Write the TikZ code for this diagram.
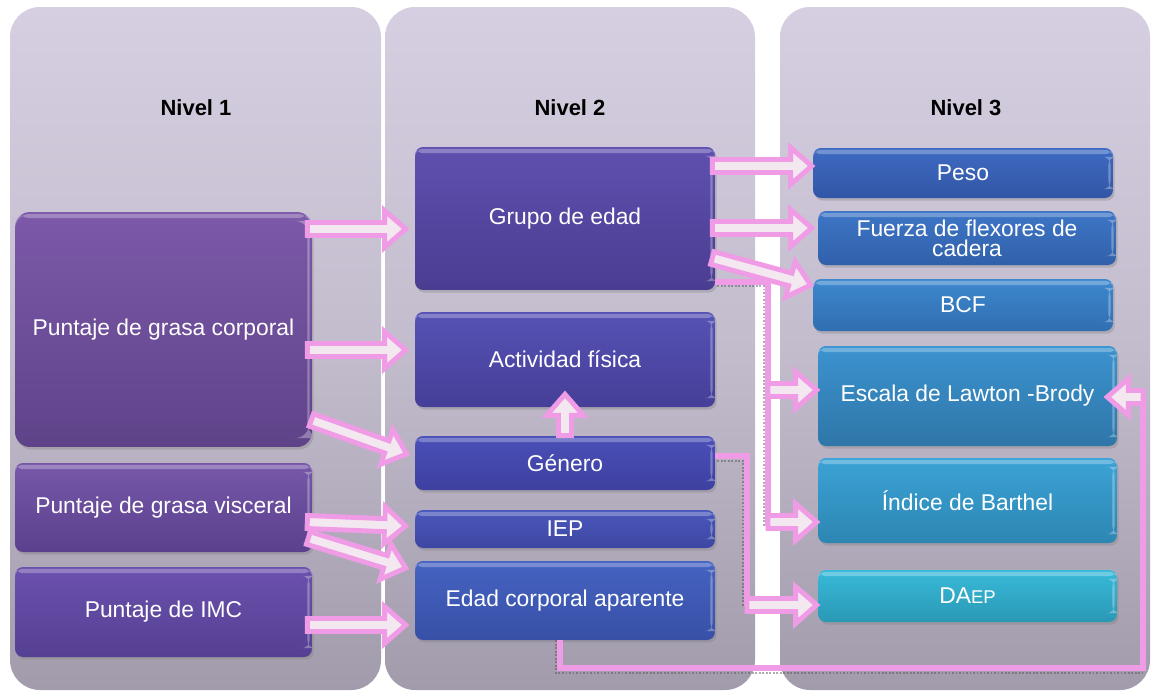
\documentclass[tikz,border=0pt]{standalone}
\usepackage{fontspec}
\setmainfont{Liberation Sans}
\usetikzlibrary{calc,shadows}
\definecolor{pinkA}{HTML}{F09BE6}
\definecolor{pinkF}{HTML}{F3E7F0}
\definecolor{colT}{HTML}{D6CFE1}
\definecolor{colM}{HTML}{C3BCCD}
\definecolor{colB}{HTML}{A29BAB}
\tikzset{
  colbg/.style={top color=colT, bottom color=colB, middle color=colM, rounded corners=0.6cm},
  header/.style={font=\bfseries\fontsize{12.5}{14}\selectfont, text=black},
  box/.style 2 args={/utils/exec={\definecolor{c#1}{HTML}{#1}\definecolor{c#2}{HTML}{#2}},
    rounded corners=0.16cm, top color=c#1, bottom color=c#2,
    text=white, font=\fontsize{13}{14}\selectfont, align=center, inner sep=0pt,
    drop shadow={opacity=0.35, shadow xshift=1pt, shadow yshift=-1.5pt},
    path picture={
      \fill[white,opacity=0.28] ([yshift=-1pt]path picture bounding box.north west) rectangle ([yshift=-3.5pt]path picture bounding box.north east);
      \fill[white,opacity=0.3] ([xshift=-2.6pt,yshift=-5pt]path picture bounding box.north east) rectangle ([xshift=-1.4pt,yshift=5pt]path picture bounding box.south east);
    }},
  barrowstyle/.style={draw=pinkA, fill=pinkF, line width=2.8pt, line join=miter, miter limit=4},
  link/.style={draw=pinkA, line width=3.2pt},
  linkshadow/.style={draw=black!70, densely dotted, line width=1pt, opacity=0.45},
}
\newcommand\barr[2]{%
  \path let \p1=(#1), \p2=(#2), \n1={atan2(\y2-\y1,\x2-\x1)}, \n2={veclen(\x2-\x1,\y2-\y1)} in
    \pgfextra{\pgfmathsetmacro\bangtmp{\n1}\xdef\bang{\bangtmp}%
      \pgfmathsetmacro\blentmp{\n2}\xdef\blen{\blentmp}%
      \pgfmathsetmacro\bhbtmp{\blentmp-12}\xdef\bhb{\bhbtmp}%
      \xdef\bxx{\x1}\xdef\byy{\y1}};
  \begin{scope}[shift={(\bxx,\byy)}, rotate=\bang]
    \draw[barrowstyle] (0pt,-3.7pt) -- (\bhb pt,-3.7pt) -- (\bhb pt,-10.5pt) -- (\blen pt,0pt)
      -- (\bhb pt,10.5pt) -- (\bhb pt,3.7pt) -- (0pt,3.7pt) -- cycle;
  \end{scope}}
\begin{document}
\begin{tikzpicture}[x=0.02cm,y=-0.02cm]
\useasboundingbox (0,0) rectangle (1154,691);
\clip (0,0) rectangle (1154,691);
\fill[white] (0,0) rectangle (1154,691);
% column backgrounds
\path[colbg] (10,7) rectangle (381,690);
\path[colbg] (385,7) rectangle (755,690);
\path[colbg] (780,7) rectangle (1150,690);
\node[header] (h1) at (196,108) {Nivel 1};
\node[header] (h2) at (570,108) {Nivel 2};
\node[header] (h3) at (966,108) {Nivel 3};
% level 1
\node[box={7C59A9}{5F4389}, rounded corners=0.3cm, minimum width=5.94cm, minimum height=4.7cm] (gc) at (163.5,329.5) {Puntaje de grasa corporal};
\node[box={7757A9}{5A418D}, minimum width=5.94cm, minimum height=1.78cm] (gv) at (163.5,507.5) {Puntaje de grasa visceral};
\node[box={6B51AE}{554093}, minimum width=5.94cm, minimum height=1.8cm] (imc) at (163.5,612) {Puntaje de IMC};
% level 2
\node[box={5F50AF}{4A3D91}, minimum width=6cm, minimum height=2.86cm] (ge) at (565,218.5) {Grupo de edad};
\node[box={5652B5}{453F98}, minimum width=6cm, minimum height=1.9cm] (af) at (565,359.5) {Actividad física};
\node[box={4A50B8}{3E40A0}, minimum width=6cm, minimum height=1.08cm] (gen) at (565,463) {Género};
\node[box={4A58BC}{3E47A2}, minimum width=6cm, minimum height=0.76cm] (iep) at (565,529) {IEP};
\node[box={4563C2}{3850A6}, minimum width=6cm, minimum height=1.58cm] (eca) at (565,600.5) {Edad corporal aparente};
% level 3
\node[box={3E6AC2}{3256A6}, minimum width=6cm, minimum height=1cm] (peso) at (963,173) {Peso};
\node[box={3D76C6}{3160AA}, minimum width=5.96cm, minimum height=1.08cm, font=\fontsize{13}{11.5}\selectfont] (fu) at (967,238) {Fuerza de flexores de\\cadera};
\node[box={3D88CE}{306EB0}, minimum width=6cm, minimum height=1.04cm] (bcf) at (963,305) {BCF};
\node[box={3C93D0}{2E76A8}, minimum width=5.98cm, minimum height=2cm] (esc) at (967.5,396) {Escala de Lawton -Brody};
\node[box={3BA3D6}{2D86B2}, minimum width=5.98cm, minimum height=1.7cm] (bar) at (967.5,500.5) {Índice de Barthel};
\node[box={38BAD9}{2A98B5}, minimum width=5.98cm, minimum height=1.04cm] (daep) at (967.5,596) {DA{\fontsize{10.5}{12}\selectfont EP}};
% elbow connectors
\coordinate (j1) at (768,526);
\coordinate (j1a) at (768,390);
\coordinate (j1b) at (768,522);
\coordinate (j2) at (747,606);
\coordinate (j2a) at (747,605);
\coordinate (j3) at (1143,668);
\coordinate (j3t) at (1143,397);
\draw[linkshadow] ([shift={(2,4)}]ge.east|-0,282) -| ([shift={(-4,0)}]j1);
\draw[linkshadow] ([shift={(2,4)}]gen.east|-0,457) -| ([shift={(-4,0)}]j2);
\draw[linkshadow] ($(eca.south)+(-9,0)$) |- ($(j3)+(0,5)$);
\draw[link] (ge.east|-0,282) -| (j1);
\draw[link] (gen.east|-0,456) -| (j2);
\draw[link] ($(eca.south)+(-5,0)$) |- (j3) -- (j3t);
% block arrows
\barr{$(gc.east|-0,229)+(-5,0)$}{$(ge.west|-0,229)+(-9,0)$}
\barr{$(gc.east|-0,350)+(-5,0)$}{$(af.west|-0,350)+(-9,0)$}
\barr{$(gc.east|-0,420)+(-1,0)$}{$(gen.west|-0,454)+(-8,0)$}
\barr{$(gv.east|-0,522)+(-5,0)$}{$(iep.west|-0,526)+(-9,0)$}
\barr{$(gv.east|-0,538)+(-4,0)$}{$(eca.west|-0,568)+(-9,0)$}
\barr{$(imc.east|-0,625)+(-5,0)$}{$(eca.west|-0,625)+(-9,0)$}
\barr{gen.north}{$(af.south)+(0,-13)$}
\barr{$(ge.east|-0,166)+(-3,0)$}{$(peso.west|-0,166)+(-1,0)$}
\barr{$(ge.east|-0,228)+(-3,0)$}{$(fu.west|-0,228)+(-6,0)$}
\barr{$(ge.east|-0,258)+(-3,0)$}{$(bcf.west|-0,285)+(-2,0)$}
\barr{j1a}{$(esc.west|-0,390)+(-1,0)$}
\barr{j1b}{$(bar.west|-0,522)+(-1,0)$}
\barr{j2a}{$(daep.west|-0,605)+(-1,0)$}
\barr{j3t}{$(esc.east|-0,397)+(-10,0)$}
\end{tikzpicture}
\end{document}
